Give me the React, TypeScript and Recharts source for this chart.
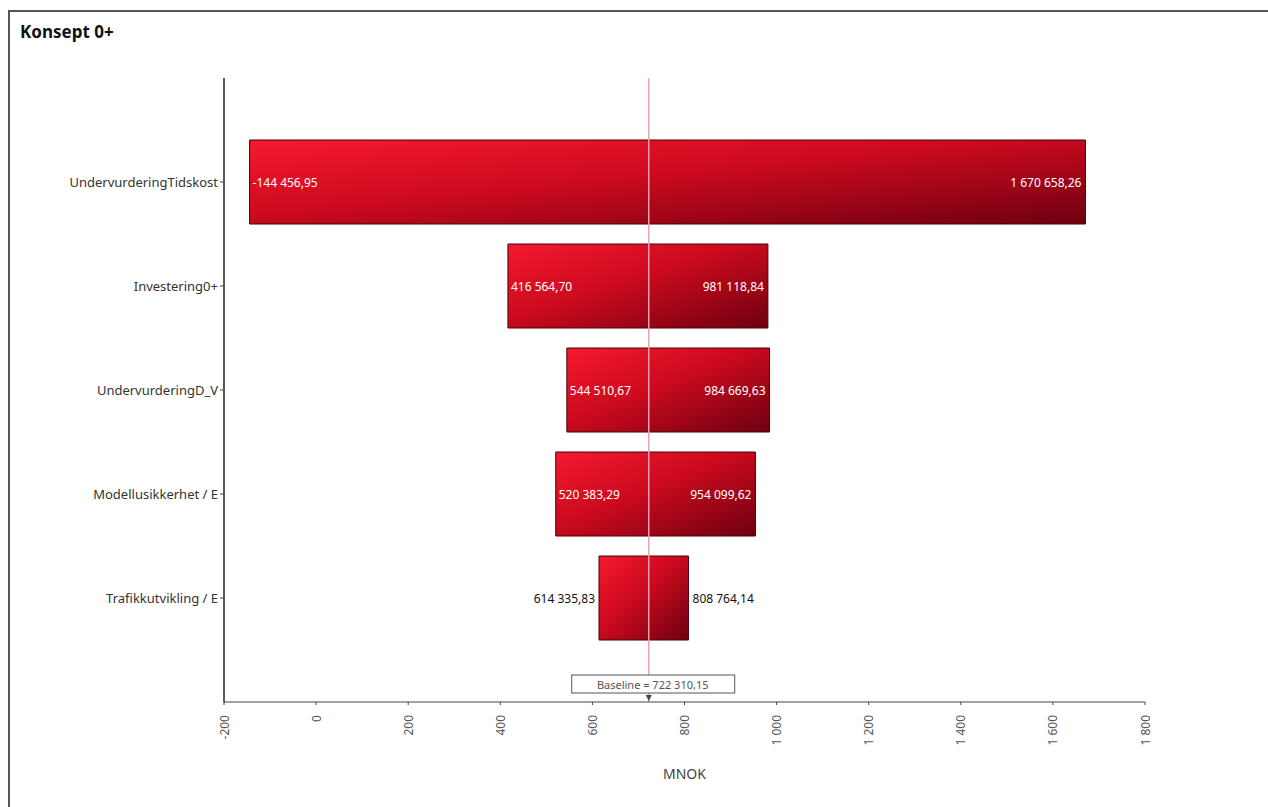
import React from "react";
import { BarChart, Bar, XAxis, YAxis, ReferenceLine, LabelList, Label } from "recharts";

const categories = [
  "UndervurderingTidskost",
  "Investering0+",
  "UndervurderingD_V",
  "Modellusikkerhet / E",
  "Trafikkutvikling / E",
];
const lowValues = [-144456.95, 416564.7, 544510.67, 520383.29, 614335.83];
const highValues = [1670658.26, 981118.84, 984669.63, 954099.62, 808764.14];
const xTicks = [-200000, 0, 200000, 400000, 600000, 800000, 1000000, 1200000, 1400000, 1600000, 1800000];
const baseline = 722310.15;

const data = categories.map((name, i) => ({
  name,
  low: lowValues[i],
  high: highValues[i],
  range: [lowValues[i], highValues[i]],
}));

const FONT = "'Noto Sans', 'DejaVu Sans', sans-serif";

function groupThousands(s: string) {
  return s.replace(/\B(?=(\d{3})+(?!\d))/g, " ");
}

function fmtValue(v: number) {
  const neg = v < 0;
  const [int, dec] = Math.abs(v).toFixed(2).split(".");
  return (neg ? "-" : "") + groupThousands(int) + "," + dec;
}

function fmtTick(v: number) {
  const k = Math.round(v / 1000);
  return (k < 0 ? "-" : "") + groupThousands(String(Math.abs(k)));
}

const XTick = (props: any) => {
  const { x, y, payload } = props;
  return (
    <text
      x={0}
      y={0}
      transform={`translate(${x},${y + 8}) rotate(-90)`}
      textAnchor="end"
      dominantBaseline="central"
      fontSize={12}
      fill="#555"
      fontFamily={FONT}
    >
      {fmtTick(payload.value)}
    </text>
  );
};

const YTick = (props: any) => {
  const { x, y, payload } = props;
  return (
    <text x={x} y={y} textAnchor="end" dominantBaseline="central" fontSize={13} fill="#333" fontFamily={FONT}>
      {payload.value}
    </text>
  );
};

const makeLabel = (side: "low" | "high") => (props: any) => {
  const { x, y, width, height, index } = props;
  const d = data[index];
  const text = fmtValue(side === "low" ? d.low : d.high);
  const narrow = Math.abs(width) < 150;
  const cy = y + height / 2;
  const left = Math.min(x, x + width);
  const right = Math.max(x, x + width);
  if (side === "low") {
    return (
      <text
        x={narrow ? left - 4 : left + 3}
        y={cy}
        textAnchor={narrow ? "end" : "start"}
        dominantBaseline="central"
        fontSize={12}
        fill={narrow ? "#111" : "#fff"}
        fontFamily={FONT}
      >
        {text}
      </text>
    );
  }
  return (
    <text
      x={narrow ? right + 4 : right - 4}
      y={cy}
      textAnchor={narrow ? "start" : "end"}
      dominantBaseline="central"
      fontSize={12}
      fill={narrow ? "#111" : "#fff"}
      fontFamily={FONT}
    >
      {text}
    </text>
  );
};

const BaselineLabel = (props: any) => {
  const { viewBox } = props;
  const x = viewBox.x;
  const bottom = viewBox.y + viewBox.height;
  return (
    <g>
      <rect x={x - 77} y={bottom - 27} width={163} height={18} fill="#fff" stroke="#555" strokeWidth={1} />
      <text
        x={x + 4}
        y={bottom - 18}
        textAnchor="middle"
        dominantBaseline="central"
        fontSize={11}
        fill="#555"
        fontFamily={FONT}
      >
        {"Baseline = " + fmtValue(baseline)}
      </text>
      <path d={`M${x - 3},${bottom - 7} L${x + 3},${bottom - 7} L${x},${bottom - 1} Z`} fill="#444" />
    </g>
  );
};

export default function App() {
  return (
    <div
      style={{
        position: "fixed",
        left: 8,
        top: 8,
        width: 1260,
        height: 799,
        fontFamily: FONT,
        overflow: "hidden",
        background: "#fff",
      }}
    >
      <div
        style={{
          position: "absolute",
          left: 0,
          top: 2,
          width: 1260,
          height: 797,
          borderTop: "2px solid #555",
          borderLeft: "2px solid #555",
          boxSizing: "border-box",
        }}
      />
      <div
        style={{
          position: "absolute",
          left: 12,
          top: 12,
          fontSize: 17,
          fontWeight: 700,
          color: "#111",
          fontFamily: FONT,
        }}
      >
        Konsept 0+
      </div>
      <div style={{ position: "absolute", left: 0, top: 0 }}>
        <BarChart
          width={1260}
          height={790}
          data={data}
          layout="vertical"
          margin={{ top: 70, right: 123, bottom: 11, left: 0 }}
        >
          <defs>
            <linearGradient id="barGrad" x1="0" y1="0" x2="1" y2="1">
              <stop offset="0%" stopColor="#f5192f" />
              <stop offset="45%" stopColor="#cc0a1e" />
              <stop offset="100%" stopColor="#6e0010" />
            </linearGradient>
          </defs>
          <XAxis
            type="number"
            domain={[-200000, 1800000]}
            ticks={xTicks}
            interval={0}
            height={85}
            tick={<XTick />}
            tickSize={3}
            axisLine={{ stroke: "#444" }}
            tickLine={{ stroke: "#444" }}
          >
            <Label
              value="MNOK"
              position="insideBottom"
              offset={8}
              fontSize={14}
              fill="#444"
              fontFamily={FONT}
            />
          </XAxis>
          <YAxis
            type="category"
            dataKey="name"
            width={216}
            padding={{ top: 52, bottom: 52 }}
            tick={<YTick />}
            tickSize={4}
            axisLine={{ stroke: "#222", strokeWidth: 1.5 }}
            tickLine={{ stroke: "#444" }}
          />
          <ReferenceLine x={baseline} stroke="#f0a0b0" strokeWidth={1.5} label={<BaselineLabel />} />
          <Bar
            dataKey="range"
            barSize={84}
            fill="url(#barGrad)"
            stroke="#4a0008"
            strokeWidth={1}
            isAnimationActive={false}
          >
            <LabelList dataKey="low" content={makeLabel("low")} />
            <LabelList dataKey="high" content={makeLabel("high")} />
          </Bar>
        </BarChart>
      </div>
    </div>
  );
}
